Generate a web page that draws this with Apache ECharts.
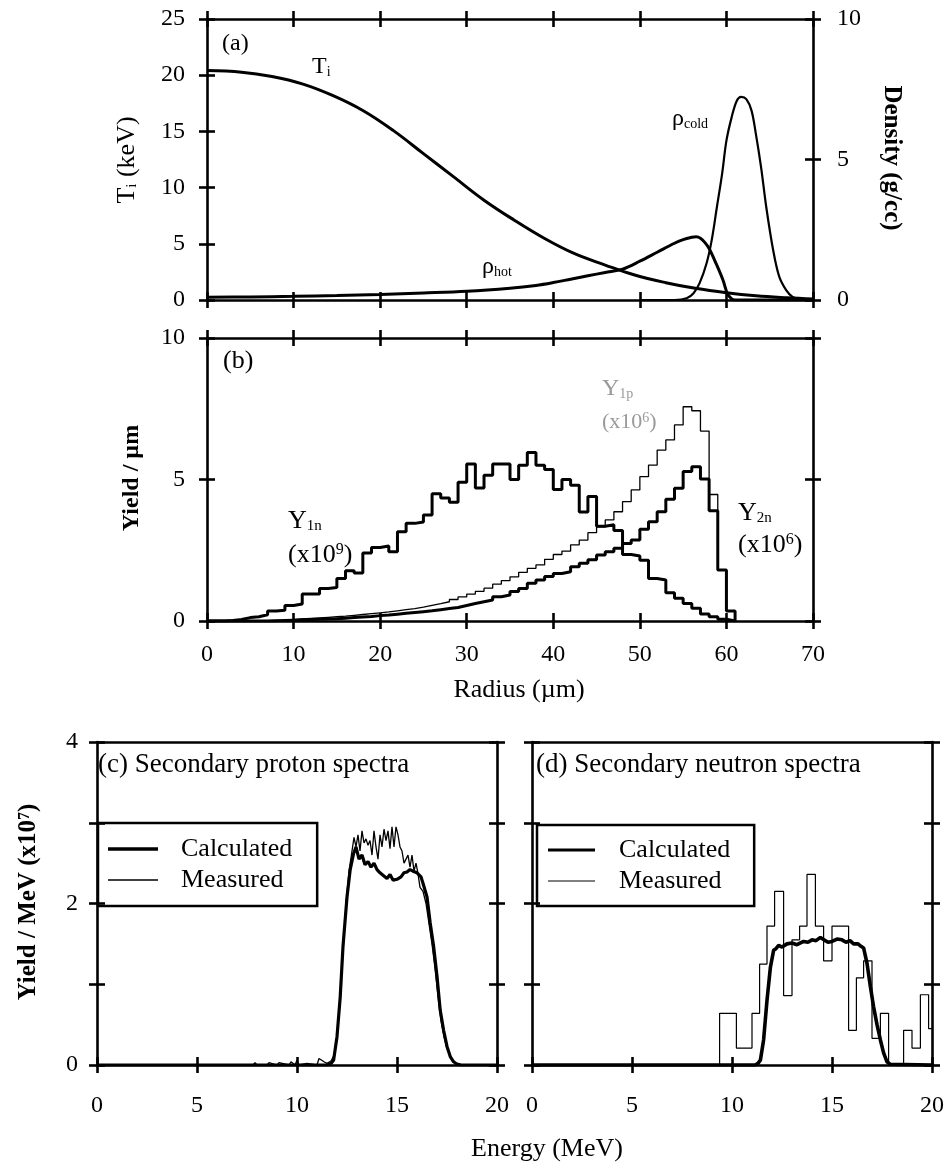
<!DOCTYPE html>
<html><head><meta charset="utf-8">
<script src="https://cdn.jsdelivr.net/npm/echarts@6/dist/echarts.min.js"></script>
<style>html,body{margin:0;padding:0;background:#fff}#c{width:948px;height:1164px}</style>
</head><body><div id="c"></div>
<script>
// ---------- Panel (a): ion temperature and densities vs radius ----------
const radiusTi = [0,4,7.5,11,14.5,18,21.5,25,28.5,32,35.5,39,42.4,46,49.4,53,56.4,60,63.4,67,70];
const ionTemp  = [20.41,20.27,19.88,19.23,18.2,16.86,15.09,13.02,10.95,8.88,7.1,5.47,4.14,3.11,2.22,1.54,1.04,0.65,0.38,0.2,0.09];
const radiusHot = [0,5,10,15,20,25,30,35,38,40,42,44,46,48,50,52,54,55,56,56.5,57,57.5,58,58.8,59.6,60.1,60.6,61,70];
const rhoHot    = [0.1,0.11,0.13,0.16,0.2,0.25,0.31,0.42,0.52,0.62,0.74,0.86,0.98,1.1,1.38,1.7,2.02,2.15,2.23,2.25,2.2,2.05,1.83,1.3,0.71,0.24,0.04,0,0];
const radiusCold = [50,54,55.4,56.2,56.9,57.7,58.3,58.9,59.5,60,60.6,61.2,61.7,62.3,62.9,63.4,64,64.6,65.4,66.1,66.9,67.6,68.4,70];
const rhoCold    = [0,0,0.06,0.24,0.6,1.3,2.13,3.31,4.49,5.67,6.5,7.09,7.23,7.15,6.74,5.91,4.73,3.31,1.77,0.83,0.35,0.12,0.02,0];

// ---------- Panel (b): yields per micron (1-um bins, value = bin start) ----------
const binStart = [0,1,2,3,4,5,6,7,8,9,10,11,12,13,14,15,16,17,18,19,20,21,22,23,24,25,26,27,28,29,30,31,32,33,34,35,36,37,38,39,40,41,42,43,44,45,46,47,48,49,50,51,52,53,54,55,56,57,58,59,60,61];
const yield1n = [0,0,0.02,0.05,0.12,0.15,0.22,0.35,0.38,0.55,
  0.6,0.95,0.95,1.15,1.18,1.5,1.78,1.7,2.4,2.6,
  2.65,2.45,3.15,3.45,3.5,3.75,4.5,4.35,4.2,4.9,
  5.55,4.7,5.15,5.55,5.55,5.0,5.5,5.95,5.5,5.35,
  4.65,5.0,4.8,3.85,4.4,3.35,3.4,3.2,2.35,2.3,
  2.15,1.5,1.45,1.0,0.8,0.62,0.45,0.25,0.15,0.06,0,0];
const yield1p = [0,0,0,0,0,0,0.01,0.02,0.03,0.05,
  0.07,0.09,0.11,0.13,0.15,0.17,0.2,0.23,0.26,0.29,
  0.32,0.36,0.4,0.44,0.49,0.55,0.61,0.68,0.76,0.85,
  0.95,1.05,1.16,1.3,1.43,1.56,1.72,1.86,1.98,2.18,
  2.35,2.47,2.69,2.86,3.12,3.33,3.57,3.86,4.22,4.63,
  5.1,5.51,6.04,6.4,6.93,7.57,7.43,6.71,4.47,1.8,0.35,0];
const yield2n = [0,0,0,0,0,0,0,0.01,0.02,0.03,
  0.04,0.05,0.06,0.07,0.08,0.1,0.12,0.14,0.16,0.19,
  0.21,0.24,0.27,0.3,0.33,0.36,0.4,0.44,0.48,0.55,
  0.62,0.68,0.74,0.86,0.92,1.04,1.15,1.33,1.45,1.57,
  1.68,1.74,1.92,2.04,2.16,2.33,2.45,2.57,2.74,2.86,
  3.24,3.51,3.86,4.3,4.69,5.28,5.45,5.02,3.9,1.8,0.35,0];

// ---------- Panel (c): secondary proton spectra ----------
const energyCalcP = [0,11.5,11.7,11.83,12.0,12.16,12.3,12.5,12.66,12.83,12.95,13.1,13.25,13.4,13.55,13.7,13.85,14.0,14.15,14.3,14.5,14.65,14.8,15.0,15.2,15.35,15.5,15.65,15.8,16.0,16.2,16.3,16.5,16.66,16.83,17.0,17.16,17.33,17.5,17.67,17.83,18.0,18.2,20];
const calcP = [0,0,0.02,0.06,0.35,0.84,1.47,2.08,2.42,2.62,2.7,2.55,2.6,2.48,2.52,2.45,2.5,2.42,2.38,2.35,2.31,2.36,2.29,2.3,2.33,2.38,2.39,2.42,2.4,2.38,2.33,2.25,2.08,1.76,1.47,1.1,0.68,0.43,0.23,0.1,0.04,0.01,0,0];
const energyMeasP = [0,7.8,7.9,8.0,8.5,8.6,9.0,9.1,9.6,9.7,9.9,10.0,10.1,10.5,11.0,11.1,11.2,11.35,11.5,11.7,11.85,12.0,12.15,12.3,12.45,12.6,12.75,12.85,12.95,13.05,13.15,13.25,13.35,13.45,13.55,13.65,13.75,13.85,13.95,14.05,14.15,14.25,14.35,14.45,14.55,14.65,14.75,14.85,14.95,15.05,15.15,15.25,15.35,15.45,15.55,15.65,15.75,15.85,15.95,16.05,16.15,16.3,16.45,16.6,16.75,16.9,17.05,17.2,17.35,17.5,17.65,17.8,17.95,18.1,18.25,20];
const measP = [0,0,0.03,0,0,0.03,0,0.03,0,0.04,0,0.06,0,0.02,0,0.08,0.1,0.04,0.02,0.05,0.12,0.35,0.8,1.4,2.0,2.4,2.65,2.82,2.7,2.85,2.65,2.9,2.75,2.8,2.72,2.78,2.6,2.9,2.7,2.55,2.85,2.7,2.92,2.78,2.9,2.68,2.95,2.7,2.95,2.85,2.7,2.65,2.5,2.55,2.6,2.45,2.6,2.4,2.5,2.37,2.2,2.15,2.0,1.75,1.5,1.2,0.85,0.55,0.35,0.2,0.12,0.06,0.02,0.01,0,0];

// ---------- Panel (d): secondary neutron spectra ----------
const energyCalcN = [0,11.16,11.3,11.42,11.58,11.75,11.92,12.08,12.2,12.33,12.5,12.75,13.0,13.25,13.58,13.8,14.0,14.2,14.42,14.6,14.8,15.0,15.25,15.5,15.7,15.9,16.08,16.3,16.45,16.58,16.75,16.92,17.08,17.25,17.42,17.58,17.75,17.9,18.0,20];
const calcN = [0,0,0.02,0.06,0.31,0.8,1.21,1.42,1.44,1.48,1.46,1.5,1.51,1.49,1.53,1.52,1.55,1.54,1.58,1.55,1.52,1.53,1.56,1.55,1.52,1.54,1.5,1.5,1.47,1.45,1.26,0.97,0.72,0.5,0.31,0.15,0.04,0.01,0,0];
const binEdgeMeasN = [0,9.38,9.8,10.22,10.6,11.0,11.38,11.75,12.13,12.58,13.0,13.38,13.75,14.17,14.58,15.0,15.42,15.83,16.22,16.58,17.0,17.42,17.83,18.2,18.58,19.0,19.42,19.83,20];
const measN = [0,0.64,0.64,0.21,0.21,0.64,1.25,1.72,2.15,0.86,1.55,1.72,2.36,1.72,1.29,1.72,1.72,0.43,1.08,1.29,0.33,0.64,0,0,0.43,0.21,0.87,0.45,0.45];

// tick labels
const radiusTicks = {min:0, max:70, interval:10};
const tempTicks = {min:0, max:25, interval:5};
const densTicks = {min:0, max:10, interval:5};
const yieldTicks = {min:0, max:10, interval:5};
const energyTicks = {min:0, max:20, interval:5};
const specTicks = {min:0, max:4, interval:1};
const legendNames = ['Calculated', 'Measured'];

const zip = (a, b) => a.map((v, i) => [v, b[i]]);
const SERIF = 'Liberation Serif';
const LBL = {fontFamily: SERIF, fontSize: 24, color: '#000'};
const xAxes = [], yAxes = [];
function addAxes(list, grid, position, ticks, label, opts) {
  opts = opts || {};
  const base = {type: 'value', gridIndex: grid, position: position, min: ticks.min, max: ticks.max, interval: ticks.interval,
    splitLine: {show: false}, axisPointer: {show: false}};
  const tickOn = opts.ticks !== false;
  const main = Object.assign({}, base, {
    axisLine: {show: true, onZero: false, lineStyle: {color: '#000', width: 2.6}},
    axisTick: {show: tickOn, inside: false, length: 8, lineStyle: {color: '#000', width: 2.6}},
    axisLabel: label ? Object.assign({show: true}, LBL, label) : {show: false}
  });
  const inner = Object.assign({}, base, {
    axisLine: {show: false, onZero: false},
    axisTick: {show: tickOn, inside: true, length: 8, lineStyle: {color: '#000', width: 2.6}},
    axisLabel: {show: false}
  });
  list.push(main); const idx = list.length - 1;
  list.push(inner);
  return idx;
}
// grid 0: (a)
const ax_aX = addAxes(xAxes, 0, 'bottom', radiusTicks, null);
addAxes(xAxes, 0, 'top', radiusTicks, null);
const ax_aT = addAxes(yAxes, 0, 'left', tempTicks, {margin: 22});
const ax_aD = addAxes(yAxes, 0, 'right', densTicks, {margin: 24});
// grid 1: (b)
const ax_bX = addAxes(xAxes, 1, 'bottom', radiusTicks, {margin: 22});
addAxes(xAxes, 1, 'top', radiusTicks, null);
const ax_bY = addAxes(yAxes, 1, 'left', yieldTicks, {margin: 22});
addAxes(yAxes, 1, 'right', yieldTicks, null);
// grid 2: (c)
const ax_cX = addAxes(xAxes, 2, 'bottom', energyTicks, {margin: 29});
addAxes(xAxes, 2, 'top', energyTicks, null, {ticks: false});
const ax_cY = addAxes(yAxes, 2, 'left', specTicks, {margin: 19, formatter: v => (v % 2 === 0 ? String(v) : '')});
addAxes(yAxes, 2, 'right', specTicks, null);
// grid 3: (d)
const ax_dX = addAxes(xAxes, 3, 'bottom', energyTicks, {margin: 29});
addAxes(xAxes, 3, 'top', energyTicks, null, {ticks: false});
const ax_dY = addAxes(yAxes, 3, 'left', specTicks, null);
addAxes(yAxes, 3, 'right', specTicks, null);

const line = (name, xi, yi, data, width, extra) => Object.assign({
  type: 'line', name: name, xAxisIndex: xi, yAxisIndex: yi, data: data, symbol: 'none', silent: true,
  lineStyle: {color: '#000', width: width}, itemStyle: {color: '#000'}, z: 3
}, extra || {});

function txt(x, y, text, size, extra) {
  return {type: 'text', x: x, y: y, silent: true, z: 50,
    style: Object.assign({text: text, fontFamily: SERIF, fontSize: size, fill: '#000',
      textAlign: 'left', align: 'left', textVerticalAlign: 'middle', verticalAlign: 'middle'}, extra && extra.style || {})};
}
function richStyle(size, color, weight) {
  color = color || '#000'; weight = weight || 'normal';
  return {
    n: {fontFamily: SERIF, fontSize: size, fontWeight: weight, color: color, lineHeight: size},
    sub: {fontFamily: SERIF, fontSize: Math.round(size * 0.58), fontWeight: weight, color: color, lineHeight: 10, verticalAlign: 'bottom'},
    sup: {fontFamily: SERIF, fontSize: Math.round(size * 0.62), fontWeight: weight, color: color, lineHeight: 10, verticalAlign: 'top'}
  };
}
function rtxt(x, y, text, size, opts) {
  opts = opts || {};
  return {type: 'text', x: x, y: y, rotation: opts.rotation || 0, silent: true, z: 50,
    style: {text: text, rich: richStyle(size, opts.color, opts.weight), fill: opts.color || '#000',
      fontFamily: SERIF, fontSize: size,
      textAlign: opts.align || 'left', align: opts.align || 'left',
      textVerticalAlign: 'middle', verticalAlign: 'middle'}};
}
const thickIcon = 'path://M0 0H50V3.4H0Z';
const thinIcon = 'path://M0 0H50V1.3H0Z';
function legendBox(left, top, padding, itemWidth, textPad) {
  return {left: left, top: top, orient: 'vertical', selectedMode: false, symbolKeepAspect: true,
    data: [{name: legendNames[0], icon: thickIcon}, {name: legendNames[1], icon: thinIcon}],
    borderColor: '#000', borderWidth: 2.5, padding: padding, itemWidth: itemWidth, itemHeight: 14, itemGap: 5,
    textStyle: {fontFamily: SERIF, fontSize: 26, color: '#000', lineHeight: 24, padding: [0, 0, 0, textPad]}};
}

const option = {
  animation: false,
  backgroundColor: '#fff',
  grid: [
    {left: 207, top: 19, width: 606, height: 281},
    {left: 207, top: 338, width: 606, height: 283},
    {left: 97, top: 742, width: 400, height: 323},
    {left: 532, top: 742, width: 400, height: 323}
  ],
  xAxis: xAxes,
  yAxis: yAxes,
  legend: [
    legendBox(98, 823, [13, 25, 13, 10], 50, 18),
    legendBox(537, 825, [12, 24, 12, 11], 47, 19)
  ],
  series: [
    line('Ti', ax_aX, ax_aT, zip(radiusTi, ionTemp), 3, {smooth: 0.4}),
    line('rhoHot', ax_aX, ax_aD, zip(radiusHot, rhoHot), 3, {smooth: 0.35}),
    line('rhoCold', ax_aX, ax_aD, zip(radiusCold, rhoCold), 2.2, {smooth: 0.35}),
    line('Y1p', ax_bX, ax_bY, zip(binStart, yield1p), 1.3, {step: 'end'}),
    line('Y1n', ax_bX, ax_bY, zip(binStart, yield1n), 3, {step: 'end'}),
    line('Y2n', ax_bX, ax_bY, zip(binStart, yield2n), 3, {step: 'end'}),
    line(legendNames[0], ax_cX, ax_cY, zip(energyCalcP, calcP), 3.2),
    line(legendNames[1], ax_cX, ax_cY, zip(energyMeasP, measP), 1.3),
    line(legendNames[0], ax_dX, ax_dY, zip(energyCalcN, calcN), 3.6),
    line(legendNames[1], ax_dX, ax_dY, zip(binEdgeMeasN, measN), 1.2, {step: 'end'})
  ],
  graphic: [
    // panel (a)
    txt(222, 44, '(a)', 24),
    rtxt(312, 67, '{n|T}{sub|i}', 24),
    rtxt(672, 119, '{n|ρ}{sub|cold}', 24),
    rtxt(482, 267, '{n|ρ}{sub|hot}', 24),
    rtxt(127, 160, '{n|T}{sub|i}{n| (keV)}', 26, {rotation: Math.PI / 2, align: 'center'}),
    rtxt(891, 158, '{n|Density (g/cc)}', 25, {rotation: -Math.PI / 2, align: 'center', weight: 'bold'}),
    // panel (b)
    txt(223, 361, '(b)', 26),
    rtxt(288, 521, '{n|Y}{sub|1n}', 26),
    rtxt(288, 555, '{n|(x10}{sup|9}{n|)}', 26),
    rtxt(602, 389, '{n|Y}{sub|1p}', 24, {color: '#9a9a9a'}),
    rtxt(602, 422, '{n|(x10}{sup|6}{n|)}', 22, {color: '#9a9a9a'}),
    rtxt(738, 513, '{n|Y}{sub|2n}', 26),
    rtxt(738, 545, '{n|(x10}{sup|6}{n|)}', 26),
    rtxt(132, 478, '{n|Yield / µm}', 24, {rotation: Math.PI / 2, align: 'center', weight: 'bold'}),
    txt(519, 690, 'Radius (µm)', 26, {style: {textAlign: 'center', align: 'center'}}),
    // panels (c), (d)
    txt(98, 765, '(c) Secondary proton spectra', 27),
    txt(536, 765, '(d) Secondary neutron spectra', 27),
    rtxt(29, 902, '{n|Yield / MeV (x10}{sup|7}{n|)}', 25, {rotation: Math.PI / 2, align: 'center', weight: 'bold'}),
    txt(547, 1149, 'Energy (MeV)', 26, {style: {textAlign: 'center', align: 'center'}})
  ]
};
const chart = echarts.init(document.getElementById('c'), null, {renderer: 'canvas'});
chart.setOption(option);
</script>
</body></html>
